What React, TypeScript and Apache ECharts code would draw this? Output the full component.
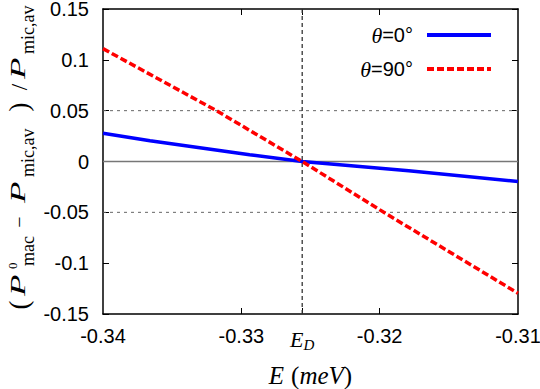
import React, { useEffect, useRef } from "react";
import * as echarts from "echarts";

const ED = -0.3256;
const xTickLabels = [-0.34, -0.33, -0.32, -0.31];
const xInnerTicks = [-0.33, ED, -0.32];
const yTicks = [-0.15, -0.1, -0.05, 0, 0.05, 0.1, 0.15];
const blueX = [-0.34, -0.3366, -0.333, -0.3294, -0.3256, -0.3179, -0.31];
const blueY = [0.0277, 0.0205, 0.0136, 0.0066, 0, -0.0092, -0.0197];
const redX = [-0.34, -0.3318, -0.3256, -0.3197, -0.31];
const redY = [0.111, 0.05, 0, -0.05, -0.1296];
const dashedY = [-0.05, 0.05];
const xRange = [-0.34, -0.31];
const yRange = [-0.15, 0.15];
const legendNames = ["θ=0°", "θ=90°"];

const SANS = '"Liberation Sans", Arial, sans-serif';
const SERIF = '"Liberation Serif", "Times New Roman", serif';

function t(text: string, x: number, y: number, size: number, italic: boolean, align: string = "left", scaleX: number = 1) {
  return {
    type: "text",
    x,
    y,
    scaleX,
    silent: true,
    style: {
      text: `{a|${text}}`,
      rich: {
        a: { fontFamily: SERIF, fontStyle: italic ? "italic" : "normal", fontWeight: "normal", fontSize: size, color: "#000" },
      },
      align,
      verticalAlign: "middle",
      textAlign: align,
      textVerticalAlign: "middle",
    },
  };
}

function legendText(name: string) {
  const th = name.slice(0, 1);
  const rest = name.slice(1);
  return `{t|${th}}{n|${rest}}`;
}

function refLine(data: number[][], color: string, width: number, type: any) {
  return {
    type: "line",
    data,
    showSymbol: false,
    symbol: "none",
    silent: true,
    z: 1,
    lineStyle: { color, width, type },
  };
}

export default function App() {
  const ref = useRef<HTMLDivElement>(null);
  useEffect(() => {
    if (!ref.current) return;
    const chart = echarts.init(ref.current, null, { renderer: "svg" });
    const fmt = (v: number) => String(parseFloat(v.toFixed(3)));
    const blueData = blueX.map((x, i) => [x, blueY[i]]);
    const redData = redX.map((x, i) => [x, redY[i]]);
    const legendRich = {
      t: { fontFamily: SERIF, fontStyle: "italic", fontSize: 22, color: "#000" },
      n: { fontFamily: SANS, fontSize: 20, color: "#000" },
    };
    chart.setOption({
      animation: false,
      backgroundColor: "#fff",
      grid: { left: 103, right: 22, top: 9, bottom: 75, containLabel: false, outerBoundsMode: "none" },
      xAxis: [
        {
          type: "value",
          min: xRange[0],
          max: xRange[1],
          interval: 0.01,
          position: "bottom",
          axisLine: { show: true, onZero: false, lineStyle: { color: "#000", width: 1.5 } },
          axisTick: { show: true, inside: true, length: 6, customValues: xInnerTicks, lineStyle: { color: "#000", width: 1 } },
          axisLabel: {
            customValues: [...xTickLabels, ED],
            margin: 12,
            fontFamily: SANS,
            fontSize: 20,
            color: "#000",
            formatter: (v: number) => (Math.abs(v - ED) < 1e-9 ? "{e|E}{d|D}" : fmt(v)),
            rich: {
              e: { fontFamily: SERIF, fontStyle: "italic", fontSize: 22, color: "#000", lineHeight: 26, verticalAlign: "middle" },
              d: { fontFamily: SERIF, fontStyle: "italic", fontSize: 15, color: "#000", lineHeight: 26, verticalAlign: "bottom", padding: [10, 0, 0, 0] },
            },
          },
          splitLine: { show: false },
          name: "{e|E}{p|(}{i|meV}{p|)}",
          nameLocation: "middle",
          nameGap: 49,
          nameTextStyle: {
            rich: {
              e: { fontFamily: SERIF, fontStyle: "italic", fontSize: 25, color: "#000", padding: [0, 7, 0, 0] },
              i: { fontFamily: SERIF, fontStyle: "italic", fontSize: 25, color: "#000" },
              p: { fontFamily: SERIF, fontSize: 25, color: "#000" },
            },
          },
        },
        {
          type: "value",
          min: xRange[0],
          max: xRange[1],
          interval: 0.01,
          position: "top",
          axisLine: { show: true, onZero: false, lineStyle: { color: "#000", width: 1.5 } },
          axisTick: { show: true, inside: true, length: 6, customValues: xInnerTicks, lineStyle: { color: "#000", width: 1 } },
          axisLabel: { show: false },
          splitLine: { show: false },
        },
      ],
      yAxis: [
        {
          type: "value",
          min: yRange[0],
          max: yRange[1],
          interval: 0.05,
          position: "left",
          axisLine: { show: true, onZero: false, lineStyle: { color: "#000", width: 1.5 } },
          axisTick: { show: true, inside: true, length: 6, lineStyle: { color: "#000", width: 1 } },
          axisLabel: { customValues: yTicks, margin: 14, fontFamily: SANS, fontSize: 20, color: "#000", formatter: (v: number) => fmt(v) },
          splitLine: { show: false },
        },
        {
          type: "value",
          min: yRange[0],
          max: yRange[1],
          interval: 0.05,
          position: "right",
          axisLine: { show: true, onZero: false, lineStyle: { color: "#000", width: 1.5 } },
          axisTick: { show: true, inside: true, length: 6, lineStyle: { color: "#000", width: 1 } },
          axisLabel: { show: false },
          splitLine: { show: false },
        },
      ],
      series: [
        ...dashedY.map((y) => refLine([[xRange[0], y], [xRange[1], y]], "#666", 1, [3, 4])),
        refLine([[xRange[0], 0], [xRange[1], 0]], "#777", 1.5, "solid"),
        refLine([[ED, yRange[0]], [ED, yRange[1]]], "#333", 1.3, [4, 3]),
        {
          name: legendNames[0],
          type: "line",
          data: blueData,
          showSymbol: false,
          symbol: "none",
          z: 3,
          lineStyle: { color: "#0000ff", width: 3.5 },
        },
        {
          name: legendNames[1],
          type: "line",
          data: redData,
          showSymbol: false,
          symbol: "none",
          z: 4,
          lineStyle: { color: "#ff0000", width: 3.5, type: [7, 3] },
        },
      ],
      graphic: [
        {
          type: "group",
          x: 0,
          y: 313,
          rotation: Math.PI / 2,
          children: [
            t("(", 8, 19, 27, false, "center"),
            t("P", 17, 18, 22, true, "left", 1.6),
            t("0", 44, 12, 13, false),
            t("mac", 47, 28, 18, false),
            t("−", 91, 19, 20, false, "center"),
            t("P", 110, 18, 22, true, "left", 1.6),
            t("mic,av", 136, 28, 18, false),
            t(")", 206, 19, 27, false, "center"),
            t("/", 226, 19, 23, false, "center"),
            t("P", 234, 18, 22, true, "left", 1.6),
            t("mic,av", 259, 28, 18, false),
          ],
        },
        {
          type: "text",
          x: 413,
          y: 35,
          silent: true,
          style: { text: legendText(legendNames[0]), rich: legendRich, align: "right", verticalAlign: "middle", textAlign: "right", textVerticalAlign: "middle" },
        },
        {
          type: "text",
          x: 413,
          y: 69,
          silent: true,
          style: { text: legendText(legendNames[1]), rich: legendRich, align: "right", verticalAlign: "middle", textAlign: "right", textVerticalAlign: "middle" },
        },
        {
          type: "line",
          silent: true,
          shape: { x1: 427, y1: 35, x2: 491, y2: 35 },
          style: { stroke: "#0000ff", lineWidth: 4 },
        },
        {
          type: "line",
          silent: true,
          shape: { x1: 427, y1: 69, x2: 491, y2: 69 },
          style: { stroke: "#ff0000", lineWidth: 4, lineDash: [7, 3] },
        },
      ],
    });
    return () => chart.dispose();
  }, []);
  return <div ref={ref} style={{ width: 540, height: 389, position: "absolute", left: 0, top: 0 }} />;
}
